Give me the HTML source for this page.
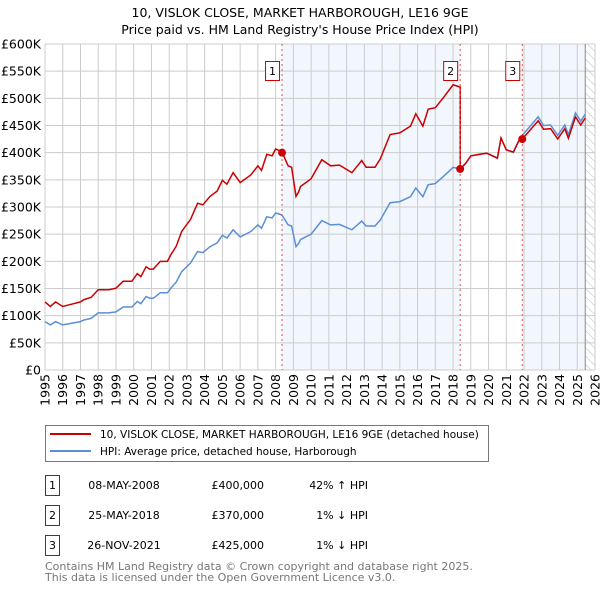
<!DOCTYPE html>
<html><head><meta charset="utf-8"><style>
body{margin:0;background:#fff;}
svg{display:block;font-family:"DejaVu Sans","Liberation Sans",sans-serif;}
</style></head><body>
<svg id="c" width="600" height="590" viewBox="0 0 600 590">
<defs><pattern id="hatch" width="6" height="6" patternUnits="userSpaceOnUse" patternTransform="rotate(-45)"><line x1="0" y1="0" x2="0" y2="6" stroke="#bbb" stroke-width="1"/></pattern></defs>
<text x="300" y="17" text-anchor="middle" font-size="12.5">10, VISLOK CLOSE, MARKET HARBOROUGH, LE16 9GE</text>
<text x="300" y="34" text-anchor="middle" font-size="12.5">Price paid vs. HM Land Registry's House Price Index (HPI)</text>
<g id="bg"></g><g id="grid"></g><g id="axes"></g><g id="series"></g><g id="marks"></g>
<g>
<rect x="45.5" y="425.5" width="443" height="36" fill="#fff" stroke="#777"/>
<line x1="50" y1="434" x2="91" y2="434" stroke="#cc0000" stroke-width="2"/>
<text x="100" y="438" font-size="10.5">10, VISLOK CLOSE, MARKET HARBOROUGH, LE16 9GE (detached house)</text>
<line x1="50" y1="451" x2="91" y2="451" stroke="#5b8fd6" stroke-width="2"/>
<text x="100" y="455" font-size="10.5">HPI: Average price, detached house, Harborough</text>
</g>
<g id="table" font-size="11"></g>
<text x="45" y="570" font-size="11" fill="#777">Contains HM Land Registry data © Crown copyright and database right 2025.</text>
<text x="45" y="581" font-size="11" fill="#777">This data is licensed under the Open Government Licence v3.0.</text>
</svg>
<script>
const hpiYears=[1995.0,1995.3,1995.6,1996.0,1996.5,1997.0,1997.2,1997.6,1998.0,1998.6,1999.0,1999.4,1999.9,2000.2,2000.4,2000.7,2000.9,2001.1,2001.5,2001.9,2002.1,2002.4,2002.7,2003.2,2003.6,2003.9,2004.3,2004.7,2005.0,2005.25,2005.6,2006.0,2006.6,2007.0,2007.2,2007.5,2007.8,2008.0,2008.3,2008.4,2008.7,2008.9,2009.15,2009.3,2009.4,2010.0,2010.6,2011.1,2011.6,2012.3,2012.85,2013.1,2013.6,2013.9,2014.45,2015.0,2015.6,2015.9,2016.3,2016.6,2017.0,2017.45,2018.0,2018.4,2018.7,2019.0,2019.5,2019.9,2020.5,2020.7,2021.0,2021.4,2021.78,2022.3,2022.8,2023.1,2023.5,2023.9,2024.3,2024.5,2024.9,2025.2,2025.45];
const hpiValues=[89,83,89,83,86,89,92,95,105,105,107,116,116,126,122,135,132,132,142,142,151,162,181,197,218,216,227,234,248,243,258,245,255,267,261,282,280,289,286,283,267,265,227,233,240,250,275,267,268,258,274,265,265,276,308,310,319,335,319,341,343,356,373,370,380,394,397,399,390,427,405,401,427,447,466,450,451,432,451,433,473,458,471];
const saleYears=[2008.36,2018.4,2021.9];
const salePrices=[400,370,425];
const yTicks=[0,50,100,150,200,250,300,350,400,450,500,550,600];
const yTickLabels=["£0","£50K","£100K","£150K","£200K","£250K","£300K","£350K","£400K","£450K","£500K","£550K","£600K"];
const xTicks=[1995,1996,1997,1998,1999,2000,2001,2002,2003,2004,2005,2006,2007,2008,2009,2010,2011,2012,2013,2014,2015,2016,2017,2018,2019,2020,2021,2022,2023,2024,2025,2026];
const saleLabels=["1","2","3"];
const saleDates=["08-MAY-2008","25-MAY-2018","26-NOV-2021"];
const salePriceText=["£400,000","£370,000","£425,000"];
const saleDiff=["42% ↑ HPI","1% ↓ HPI","1% ↓ HPI"];

const L=45,R=595,T=44,B=370,X0=1995,X1=2026,YMAX=600,DATAEND=2025.45;
const NS="http://www.w3.org/2000/svg";
const xs=y=>L+(y-X0)/(X1-X0)*(R-L);
const ys=v=>B-v/YMAX*(B-T);
function mk(parent,tag,attrs){const e=document.createElementNS(NS,tag);for(const k in attrs)e.setAttribute(k,attrs[k]);document.getElementById(parent).appendChild(e);return e;}
function hpiAt(t){for(let i=1;i<hpiYears.length;i++){if(t<=hpiYears[i]){const f=(t-hpiYears[i-1])/(hpiYears[i]-hpiYears[i-1]);return hpiValues[i-1]+f*(hpiValues[i]-hpiValues[i-1]);}}return hpiValues[hpiValues.length-1];}

let e=mk('bg','rect',{x:L,y:T,width:R-L,height:B-T,fill:'#fff'});


e=mk('bg','rect',{x:xs(saleYears[0]),y:T,width:xs(saleYears[1])-xs(saleYears[0]),height:B-T,fill:'#f2f6fd'});


e=mk('bg','rect',{x:xs(saleYears[2]),y:T,width:xs(DATAEND)-xs(saleYears[2]),height:B-T,fill:'#f2f6fd'});


e=mk('bg','rect',{x:xs(DATAEND),y:T,width:R-xs(DATAEND),height:B-T,fill:'url(#hatch)'});



yTicks.forEach((v,i)=>{
 let g=mk('grid','line',{x1:L,x2:R,y1:ys(v),y2:ys(v),stroke:'#cccccc','stroke-width':1});
 
 
 let t=mk('axes','text',{x:L-4,y:ys(v)+4.5,'text-anchor':'end','font-size':12.5});
 t.textContent=yTickLabels[i];
 
 
});
xTicks.forEach(yr=>{
 let g=mk('grid','line',{x1:xs(yr),x2:xs(yr),y1:T,y2:B,stroke:'#cccccc','stroke-width':1});
 
 
 let t=mk('axes','text',{x:0,y:0,'text-anchor':'end','font-size':12.5,transform:`translate(${xs(yr)+4.5},${B+4}) rotate(-90)`});
 t.textContent=yr;
 
 
});
e=mk('axes','line',{x1:xs(DATAEND),x2:xs(DATAEND),y1:T,y2:B,stroke:'#888','stroke-width':1});



saleYears.forEach(s=>{
 let l=mk('marks','line',{x1:xs(s),x2:xs(s),y1:T,y2:B,stroke:'#e05050','stroke-width':1,'stroke-dasharray':'2,3'});
 
 
});

let d=hpiYears.map((t,i)=>(i?'L':'M')+xs(t).toFixed(1)+','+ys(hpiValues[i]).toFixed(1)).join('');
e=mk('series','path',{d:d,fill:'none',stroke:'#5b8fd6','stroke-width':1.5});



const ratios=salePrices.map((p,i)=>p/hpiAt(saleYears[i]));
function ratioFor(t){let k=0;for(let i=0;i<saleYears.length;i++)if(t>=saleYears[i])k=i;return ratios[k];}
let pts=[];
hpiYears.forEach((t,i)=>pts.push([t,hpiValues[i]*ratioFor(t)]));
for(let i=1;i<saleYears.length;i++){const s=saleYears[i];const h=hpiAt(s);pts.push([s-1e-6,h*ratios[i-1]]);pts.push([s,h*ratios[i]]);}
pts.sort((a,b)=>a[0]-b[0]);
d=pts.map((p,i)=>(i?'L':'M')+xs(p[0]).toFixed(1)+','+ys(p[1]).toFixed(1)).join('');
e=mk('series','path',{d:d,fill:'none',stroke:'#cc0000','stroke-width':1.5});



saleYears.forEach((s,i)=>{
 let c=mk('marks','circle',{cx:xs(s),cy:ys(salePrices[i]),r:4,fill:'#cc0000'});
 
 
 let bx=xs(s)-17;
 let r=mk('marks','rect',{x:bx+0.5,y:61.5,width:14,height:19,fill:'#fff',stroke:'#cc0000'});
 
 
 let t=mk('marks','text',{x:bx+7.5,y:75,'text-anchor':'middle','font-size':11});
 t.textContent=saleLabels[i];
 
 
});

saleLabels.forEach((lab,i)=>{
 const y=475+i*30;
 let r=mk('table','rect',{x:45.5,y:y+0.5,width:14,height:20,fill:'#fff',stroke:'#cc0000'});
 
 
 let t=mk('table','text',{x:52.5,y:y+14,'text-anchor':'middle'});t.textContent=lab;
 
 
 t=mk('table','text',{x:124,y:y+14,'text-anchor':'middle'});t.textContent=saleDates[i];
 
 
 t=mk('table','text',{x:264,y:y+14,'text-anchor':'end'});t.textContent=salePriceText[i];
 
 
 t=mk('table','text',{x:368,y:y+14,'text-anchor':'end'});t.textContent=saleDiff[i];
 
 
});
</script>
</body></html>
